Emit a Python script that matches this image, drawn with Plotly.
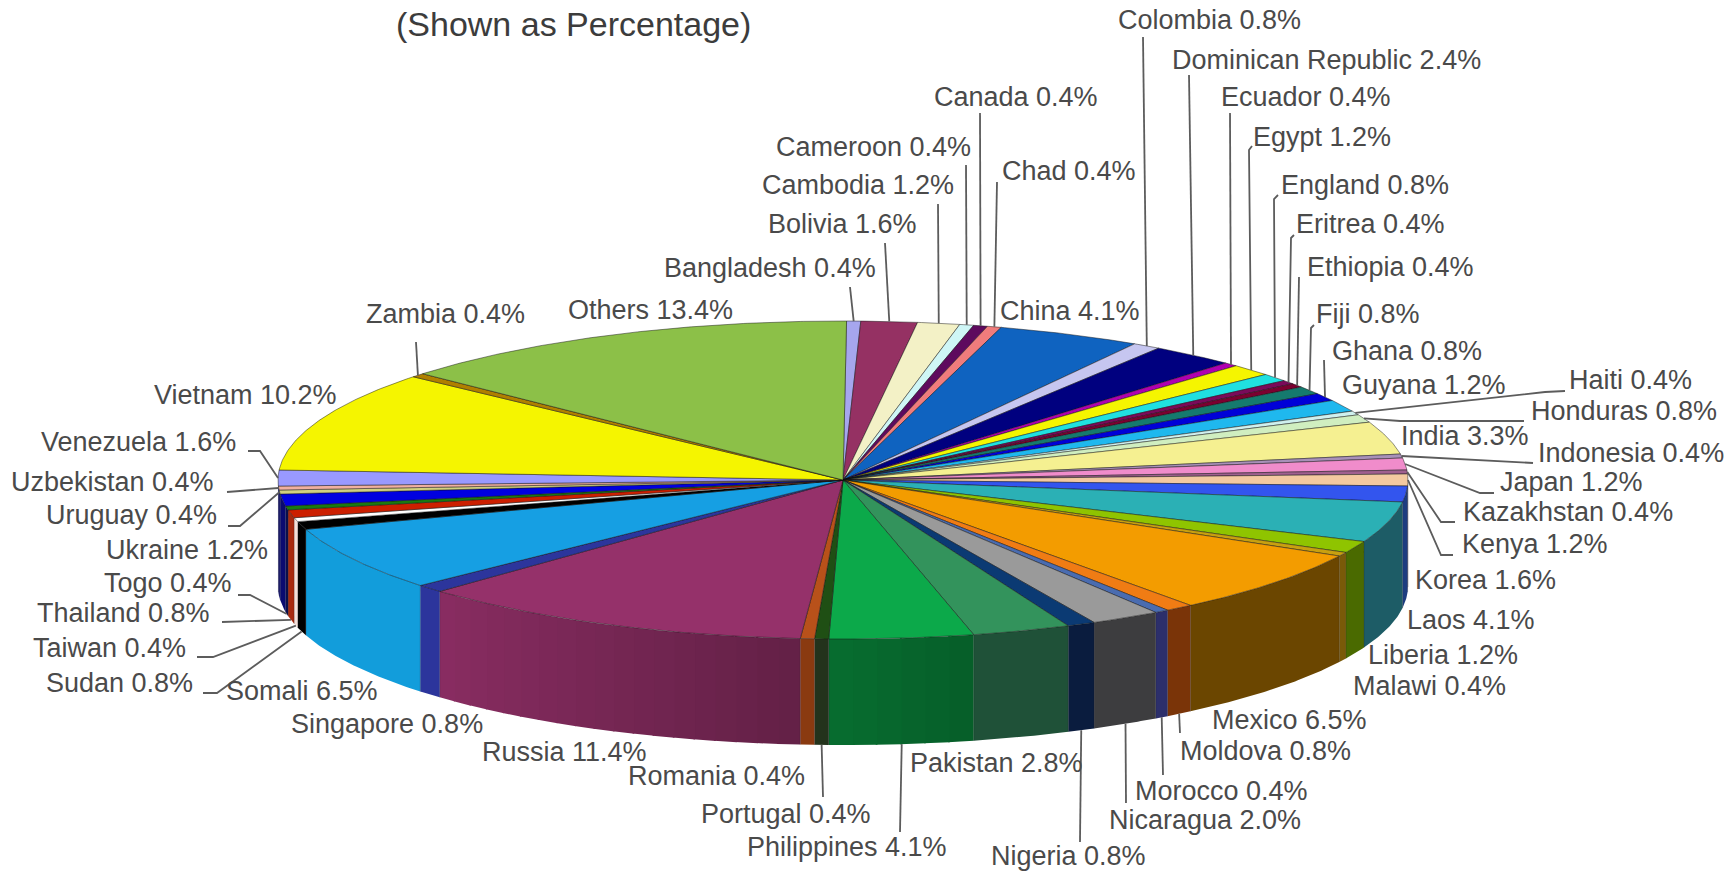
import math
import plotly.graph_objects as go

# Share of each country, clockwise from twelve o'clock
countries = ["Bangladesh", "Bolivia", "Cambodia", "Cameroon", "Canada", "Chad", "China", "Colombia",
             "Dominican Republic", "Ecuador", "Egypt", "England", "Eritrea", "Ethiopia", "Fiji", "Ghana",
             "Guyana", "Haiti", "Honduras", "India", "Indonesia", "Japan", "Kazakhstan", "Kenya", "Korea",
             "Laos", "Liberia", "Malawi", "Mexico", "Moldova", "Morocco", "Nicaragua", "Nigeria", "Pakistan",
             "Philippines", "Portugal", "Romania", "Russia", "Singapore", "Somali", "Sudan", "Taiwan",
             "Thailand", "Togo", "Ukraine", "Uruguay", "Uzbekistan", "Venezuela", "Vietnam", "Zambia", "Others"]
shares = [0.4, 1.6, 1.2, 0.4, 0.4, 0.4, 4.1, 0.8,
          2.4, 0.4, 1.2, 0.8, 0.4, 0.4, 0.8, 0.8,
          1.2, 0.4, 0.8, 3.3, 0.4, 1.2, 0.4, 1.2, 1.6,
          4.1, 1.2, 0.4, 6.5, 0.8, 0.4, 2.0, 0.8, 2.8,
          4.1, 0.4, 0.4, 11.4, 0.8, 6.5, 0.8, 0.4,
          0.8, 0.4, 1.2, 0.4, 0.4, 1.6, 10.2, 0.4, 13.4]
top_colors = ["#A6A6EE", "#953163", "#F3F1C6", "#CFF6F6", "#5E0A5E", "#F07C7C", "#0F63C0", "#C6C6F0",
              "#00007F", "#B000B0", "#F5F500", "#20E0E0", "#7A0A5A", "#7B0030", "#157A6E", "#0000D8",
              "#1FB8EE", "#CFF0EE", "#D0EEC0", "#F5F091", "#A890B8", "#F08CCB", "#A0608F", "#F3C9A0", "#3355EE",
              "#2BB0B5", "#8FC400", "#C8A010", "#F39C00", "#F07C14", "#4A6CB0", "#9A9A9A", "#0B3A73", "#33935C",
              "#0CA94A", "#1F4F14", "#B8511A", "#95316A", "#2C359C", "#169FE3", "#000000", "#FFFFFF",
              "#CC1F00", "#1A7A10", "#0000E0", "#D0D080", "#F0B0A0", "#9999FF", "#F5F500", "#B08000", "#8CC048"]
# Sides that are not simply a darkened top colour
wall_overrides = {"Ukraine": "#0A0A70", "Uruguay": "#0A0A70", "Uzbekistan": "#0A0A70", "Venezuela": "#0A0A70",
                  "Togo": "#0A1050", "Thailand": "#A82A10", "Taiwan": "#F5E0DA",
                  "Korea": "#1D3D80", "Laos": "#1D5C66", "Liberia": "#4A6A00", "Malawi": "#7A5A08",
                  "Mexico": "#6B4600", "Moldova": "#7A3408", "Morocco": "#2C2F6B", "Nicaragua": "#3D3D3F",
                  "Nigeria": "#0A1C3E", "Pakistan": "#1F5138", "Portugal": "#23331C", "Romania": "#8A3A10",
                  "Somali": "#129DDB", "Singapore": "#2C359C"}

# Label centres, on a 1568-wide layout grid
label_pos = {
    "Bangladesh": (698, 243), "Bolivia": (764, 203), "Cambodia": (778, 168), "Cameroon": (792, 133),
    "Canada": (921, 88), "Chad": (969, 155), "China": (970, 282), "Colombia": (1097, 18),
    "Dominican Republic": (1203, 54), "Ecuador": (1184, 88), "Egypt": (1199, 124), "England": (1238, 168),
    "Eritrea": (1243, 203), "Ethiopia": (1261, 242), "Fiji": (1241, 285), "Ghana": (1276, 318),
    "Guyana": (1291, 349), "Haiti": (1479, 345), "Honduras": (1473, 373), "India": (1329, 395),
    "Indonesia": (1479, 411), "Japan": (1425, 437), "Kazakhstan": (1422, 464), "Kenya": (1392, 493),
    "Korea": (1347, 526), "Laos": (1334, 562), "Liberia": (1309, 594), "Malawi": (1296, 622),
    "Mexico": (1169, 653), "Moldova": (1148, 681), "Morocco": (1108, 717), "Nicaragua": (1093, 744),
    "Nigeria": (969, 776), "Pakistan": (904, 692), "Philippines": (768, 768), "Portugal": (713, 738),
    "Romania": (650, 704), "Russia": (512, 682), "Singapore": (351, 657), "Somali": (274, 627),
    "Sudan": (108, 619), "Taiwan": (99, 588), "Thailand": (112, 556), "Togo": (152, 529),
    "Ukraine": (170, 499), "Uruguay": (119, 467), "Uzbekistan": (102, 437), "Venezuela": (126, 401),
    "Vietnam": (223, 358), "Zambia": (404, 285), "Others": (590, 281),
}
GRID = 1729 / 1568

# Leader lines: outer points in page pixels, the last point lies on the slice's rim
leaders_top = {
    "Bangladesh": [(850, 287)], "Bolivia": [(885, 243)], "Cambodia": [(938, 204)], "Cameroon": [(966, 165)],
    "Canada": [(980, 113)], "Chad": [(997, 182)], "Colombia": [(1143, 37)], "Dominican Republic": [(1189, 75)],
    "Ecuador": [(1230, 113)], "Egypt": [(1252, 146), (1249, 150)], "England": [(1278, 195), (1274, 199)],
    "Eritrea": [(1294, 235), (1291, 238)], "Ethiopia": [(1299, 277)], "Fiji": [(1314, 325), (1311, 328)],
    "Ghana": [(1324, 360)], "Haiti": [(1565, 391), (1545, 392)], "Honduras": [(1524, 421), (1400, 421)],
    "Indonesia": [(1533, 463)], "Japan": [(1494, 493), (1480, 493)],
    "Kazakhstan": [(1455, 522), (1441, 522)], "Kenya": [(1453, 555), (1441, 555)],
    "Uruguay": [(228, 526), (240, 526)], "Uzbekistan": [(227, 492)], "Venezuela": [(248, 451), (260, 451)],
    "Zambia": [(416, 342)],
}
leaders_bottom = {
    "Moldova": [(1180, 733)], "Morocco": [(1163, 775)], "Nicaragua": [(1126, 803)], "Nigeria": [(1080, 842)],
    "Philippines": [(900, 832)], "Portugal": [(823, 797)],
    "Sudan": [(203, 693), (217, 693)], "Taiwan": [(197, 657), (213, 657)], "Thailand": [(222, 622)],
    "Togo": [(238, 595), (250, 595)],
}

CX, CY, RX, RY, DEPTH = 843.0, 480.0, 565.0, 159.0, 106.0
START_OFFSET = 0.1  # first slice starts just past twelve o'clock
TOTAL = sum(shares)


def rim(cum):
    """Point on the top ellipse at a cumulative share."""
    a = 2 * math.pi * (cum / TOTAL + START_OFFSET / 100)
    return CX + RX * math.sin(a), CY - RY * math.cos(a)


def shade(hex_color, k):
    r, g, b = (int(hex_color[i:i + 2], 16) for i in (1, 3, 5))
    return f"rgb({int(r * k)},{int(g * k)},{int(b * k)})"


def wall_factor(cum):
    pct = 100 * cum / TOTAL
    if pct < 40:
        return 0.42 + (40 - pct) * 0.01
    return min(1.0, 0.42 + (pct - 40) * 0.58 / 26)


def poly(xs, ys, color, edge="rgba(0,0,0,0)", width=0):
    fig.add_trace(go.Scatter(x=xs, y=ys, mode="lines", fill="toself", fillcolor=color,
                             line=dict(color=edge, width=width), hoverinfo="skip"))


fig = go.Figure()
starts = []
running = 0.0
for s in shares:
    starts.append(running)
    running += s
wall_from, wall_to = 0.25 * TOTAL, 0.75 * TOTAL + 0.2

# Side walls of the front half, shaded along the arc
for name, start, s, col in zip(countries, starts, shares, top_colors):
    lo, hi = max(start, wall_from), min(start + s, wall_to)
    if lo >= hi:
        continue
    base = wall_overrides.get(name)
    bands = 1 if base or hi - lo < 1 else int((hi - lo) / 0.6)
    for b in range(bands):
        b0 = lo + (hi - lo) * b / bands
        b1 = min(hi, lo + (hi - lo) * (b + 1) / bands + 0.05)
        n = max(2, int((b1 - b0) / 0.1))
        top = [rim(b0 + (b1 - b0) * i / n) for i in range(n + 1)]
        xs = [p[0] for p in top] + [p[0] for p in reversed(top)] + [top[0][0]]
        ys = [p[1] for p in top] + [p[1] + DEPTH for p in reversed(top)] + [top[0][1]]
        poly(xs, ys, base if base else shade(col, wall_factor((b0 + b1) / 2)))
    # vertical seam at the slice's right-hand end
    x0, y0 = rim(lo)
    fig.add_trace(go.Scatter(x=[x0, x0], y=[y0, y0 + DEPTH], mode="lines",
                             line=dict(color="rgba(20,20,30,0.35)", width=0.7), hoverinfo="skip"))

# Top face wedges
for name, start, s, col in zip(countries, starts, shares, top_colors):
    n = max(2, int(s / 0.1))
    pts = [rim(start + s * i / n) for i in range(n + 1)]
    xs = [CX] + [p[0] for p in pts] + [CX]
    ys = [CY] + [p[1] for p in pts] + [CY]
    poly(xs, ys, col, "rgba(20,20,20,0.6)", 0.8)

# Leader lines, ending at the middle of each slice's rim
mid_of = {n: st + s / 2 for n, st, s in zip(countries, starts, shares)}
for table, drop in ((leaders_top, 0.0), (leaders_bottom, DEPTH)):
    for name, points in table.items():
        ex, ey = rim(mid_of[name])
        fig.add_trace(go.Scatter(x=[p[0] for p in points] + [ex], y=[p[1] for p in points] + [ey + drop],
                                 mode="lines", line=dict(color="#5C5C5C", width=1.8), hoverinfo="skip"))

# Labels
for name, s in zip(countries, shares):
    gx, gy = label_pos[name]
    fig.add_annotation(x=gx * GRID, y=gy * GRID, text=f"{name} {s}%", showarrow=False,
                       xanchor="center", yanchor="middle",
                       font=dict(family="Liberation Sans", size=27, color="#4A4A4A"))

fig.add_annotation(x=520 * GRID, y=22 * GRID, text="(Shown as Percentage)", showarrow=False,
                   xanchor="center", yanchor="middle",
                   font=dict(family="Liberation Sans", size=34, color="#3C3C3C"))

fig.update_layout(width=1729, height=872, margin=dict(l=0, r=0, t=0, b=0), showlegend=False,
                  paper_bgcolor="white", plot_bgcolor="white",
                  xaxis=dict(range=[0, 1729], visible=False, fixedrange=True),
                  yaxis=dict(range=[872, 0], visible=False, fixedrange=True))
fig.write_html("out.html")
